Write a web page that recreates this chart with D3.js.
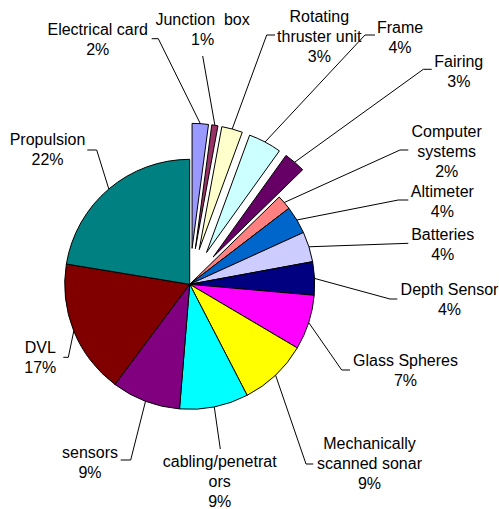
<!DOCTYPE html>
<html>
<head>
<meta charset="utf-8">
<script src="https://cdn.jsdelivr.net/npm/d3@7"></script>
<style>
  html, body { margin: 0; padding: 0; background: #fff; }
  svg { display: block; }
  text { font-family: "Liberation Sans", Arial, sans-serif; font-size: 16px; fill: #000; white-space: pre; }
</style>
</head>
<body>
<svg id="chart" width="499" height="509"></svg>
<script>
// Cost breakdown of the vehicle, clockwise from 12 o'clock
const categories = [
  "Electrical card", "Junction  box", "Rotating thruster unit", "Frame", "Fairing",
  "Computer systems", "Altimeter", "Batteries", "Depth Sensor", "Glass Spheres",
  "Mechanically scanned sonar", "cabling/penetrators", "sensors", "DVL", "Propulsion"
];
const values = [2.1, 0.8, 2.7, 4.3, 2.8, 1.9, 3.6, 3.9, 4.3, 7.1, 8.9, 8.9, 8.9, 17.4, 22.4];
const colors = [
  "#9999FF", "#993366", "#FFFFCC", "#CCFFFF", "#660066",
  "#FF8080", "#0066CC", "#CCCCFF", "#000080", "#FF00FF",
  "#FFFF00", "#00FFFF", "#800080", "#800000", "#008080"
];
// slices pulled out of the pie
const exploded = [true, true, true, true, true, false, false, false, false, false, false, false, false, false, false];
// wrapped category text as shown in the labels
const labelLines = [
  ["Electrical card"], ["Junction  box"], ["Rotating", "thruster unit"], ["Frame"], ["Fairing"],
  ["Computer", "systems"], ["Altimeter"], ["Batteries"], ["Depth Sensor"], ["Glass Spheres"],
  ["Mechanically", "scanned sonar"], ["cabling/penetrat", "ors"], ["sensors"], ["DVL"], ["Propulsion"]
];

// label placement: text centre x, first baseline y, leader elbow (x, y) and leader end x
const labelLayout = [
  { x: 97.7,  y: 35,    ex: 158.3, ey: 38.7,  endX: 151.7 },
  { x: 202.6, y: 25,    ex: 202.7, ey: 56,    endX: 202.7 },
  { x: 319.3, y: 21.7,  ex: 266.7, ey: 35,    endX: 275 },
  { x: 400,   y: 33.3,  ex: 365,   ey: 35,    endX: 375 },
  { x: 458.8, y: 66.7,  ex: 423.3, ey: 69.3,  endX: 431.7 },
  { x: 446.7, y: 136.7, ex: 400,   ey: 150,   endX: 408.3 },
  { x: 442.3, y: 197.3, ex: 398.3, ey: 200,   endX: 408.3 },
  { x: 442.7, y: 240,   ex: 408.3, ey: 243.3, endX: 408.3 },
  { x: 449.5, y: 295,   ex: 390,   ey: 299,   endX: 397.3 },
  { x: 405.5, y: 366,   ex: 341.7, ey: 370,   endX: 350 },
  { x: 369.5, y: 449.3, ex: 306,   ey: 464,   endX: 313.3 },
  { x: 219.7, y: 466.5, ex: 220.3, ey: 449,   endX: 220.3 },
  { x: 90,    y: 458,   ex: 130.7, ey: 460,   endX: 120.7 },
  { x: 40.3,  y: 353.3, ex: 68.3,  ey: 357.3, endX: 63.3 },
  { x: 47.5,  y: 145,   ex: 96.7,  ey: 150,   endX: 87.3 }
];

const cx = 189.7, cy = 284.3, R = 125, EXPLODE = 36, LINE_GAP = 20;

const data = categories.map((c, i) => ({ name: c, value: values[i], color: colors[i], exploded: exploded[i], lines: labelLines[i], layout: labelLayout[i] }));
const total = d3.sum(values);
const pct = d3.format(".0%");

const pie = d3.pie().sort(null).value(d => d.value).startAngle(0).endAngle(2 * Math.PI);
const arc = d3.arc().innerRadius(0).outerRadius(R);
const arcs = pie(data);

const svg = d3.select("#chart");
const g = svg.append("g").attr("transform", `translate(${cx},${cy})`);

function offset(d) {
  if (!d.data.exploded) return [0, 0];
  const a = (d.startAngle + d.endAngle) / 2;
  return [Math.sin(a) * EXPLODE, -Math.cos(a) * EXPLODE];
}

// slices
g.selectAll("path.slice")
  .data(arcs)
  .join("path")
  .attr("class", "slice")
  .attr("d", arc)
  .attr("transform", d => { const o = offset(d); return `translate(${o[0]},${o[1]})`; })
  .attr("fill", d => d.data.color)
  .attr("stroke", "#000")
  .attr("stroke-width", 1)
  .attr("stroke-linejoin", "round");

// leader lines from the outer edge of each slice to its label
svg.selectAll("polyline.leader")
  .data(arcs)
  .join("polyline")
  .attr("class", "leader")
  .attr("fill", "none")
  .attr("stroke", "#000")
  .attr("stroke-width", 1)
  .attr("points", d => {
    const a = (d.startAngle + d.endAngle) / 2;
    const o = offset(d);
    const sx = cx + o[0] + Math.sin(a) * R;
    const sy = cy + o[1] - Math.cos(a) * R;
    const L = d.data.layout;
    return [[sx, sy], [L.ex, L.ey], [L.endX, L.ey]].map(p => p.join(",")).join(" ");
  });

// labels: category name and share of the total
const labels = svg.selectAll("text.label")
  .data(arcs)
  .join("text")
  .attr("class", "label")
  .attr("text-anchor", "middle");

labels.each(function (d) {
  const t = d3.select(this);
  const L = d.data.layout;
  const lines = d.data.lines.concat([pct(d.data.value / total)]);
  lines.forEach((s, i) => {
    t.append("tspan").attr("x", L.x).attr("y", L.y + i * LINE_GAP).text(s);
  });
});
</script>
</body>
</html>
